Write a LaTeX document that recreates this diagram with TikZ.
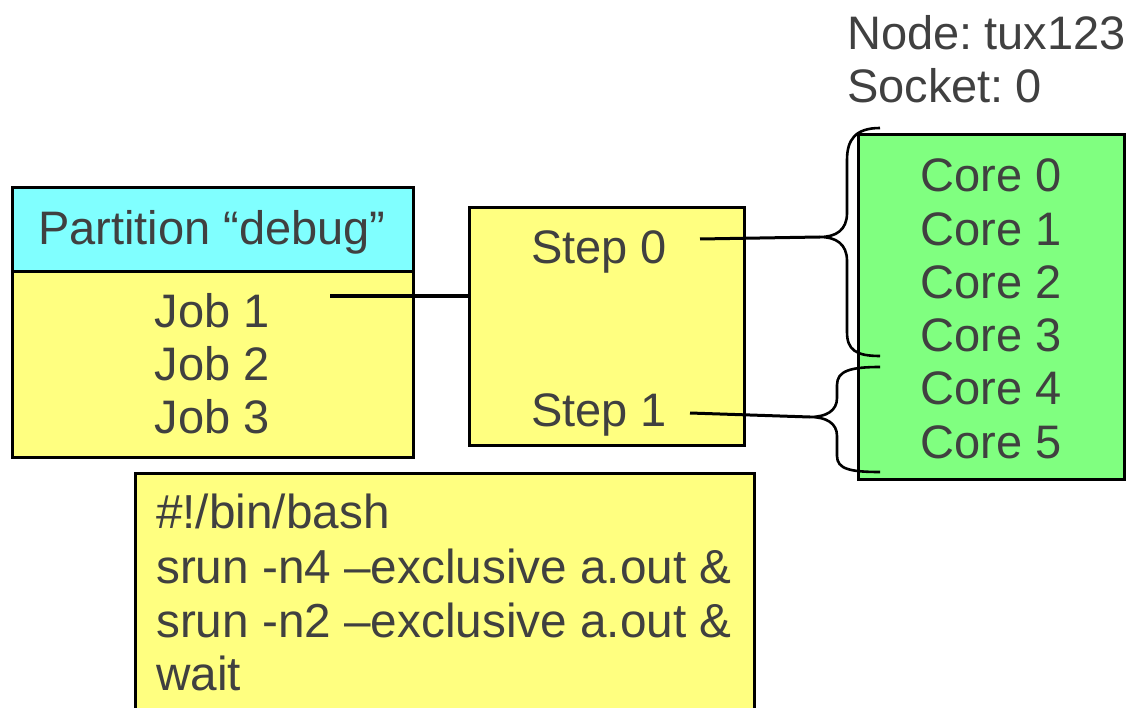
\documentclass[tikz,border=0pt]{standalone}
\usepackage{fontspec}
\setmainfont{Liberation Sans}
\definecolor{txt}{HTML}{404040}
\definecolor{cyanfill}{HTML}{80FFFF}
\definecolor{yellowfill}{HTML}{FFFF80}
\definecolor{greenfill}{HTML}{80FF80}
\newcommand{\lblfont}{\fontsize{47}{53}\selectfont}
\newcommand{\codefont}{\fontsize{47.7}{54}\selectfont}
\begin{document}
\begin{tikzpicture}[x=1pt,y=-1pt,
  box/.style={draw=black,line width=3pt},
  lbl/.style={text=txt,inner sep=0pt,anchor=base,font=\lblfont},
  lbll/.style={lbl,anchor=base west},
  codeline/.style={lbll,font=\codefont},
  wire/.style={draw=black,line width=3pt}]
\useasboundingbox (0,0) rectangle (1131,708);

% partition header and job list
\draw[box,fill=cyanfill] (12,188) rectangle (413,272);
\draw[box,fill=yellowfill] (12,272) rectangle (413,457);
\node[lbl] (part) at (212,245) {Partition “debug”};
\node[lbl] (job1) at (212,327) {Job 1};
\node[lbl] (job2) at (212,380) {Job 2};
\node[lbl] (job3) at (212,433) {Job 3};

% job steps
\draw[box,fill=yellowfill] (469,208) rectangle (744,445);
\node[lbl] (step0) at (599,264) {Step 0};
\node[lbl] (step1) at (599,426) {Step 1};

% cores of the socket
\draw[box,fill=greenfill] (858,135) rectangle (1124,479);
\foreach \i in {0,...,5}
  \node[lbl] (core\i) at (991,192+53.2*\i) {Core \i};

\node[lbll] (nodename) at (847,50) {Node:\hskip 12pt tux123};
\node[lbll] (socket) at (847,103) {Socket:\hskip 12pt 0};

% batch script
\draw[box,fill=yellowfill] (135,473) rectangle (754,712);
\node[codeline] (sh0) at (156,528) {\#!/bin/bash};
\node[codeline] (sh1) at (156,583) {srun -n4 –exclusive a.out \&};
\node[codeline] (sh2) at (156,637) {srun -n2 –exclusive a.out \&};
\node[codeline] (sh3) at (156,690) {wait};

% connectors
\coordinate (j1a) at (330,296);
\coordinate (j1b) at (469,296);
\draw[wire] (j1a) -- (j1b);

\coordinate (s0a) at (700,239);
\coordinate (tip0) at (820,237);
\coordinate (s1a) at (690,413);
\coordinate (tip1) at (810,417);
\draw[wire] (s0a) -- (tip0);
\draw[wire] (s1a) -- (tip1);

% braces grouping the cores
\draw[wire,line width=2.6pt] (880,128) .. controls (855,128) and (847,140) .. (847,160)
  -- (847,213) .. controls (847,230) and (836,237) .. (tip0)
  .. controls (836,237) and (847,244) .. (847,261)
  -- (847,332) .. controls (847,350) and (856,356) .. (880,356);
\draw[wire,line width=2.6pt] (880,367) .. controls (850,367) and (837,371) .. (837,385)
  -- (837,398) .. controls (837,411) and (826,417) .. (tip1)
  .. controls (826,417) and (837,423) .. (837,436)
  -- (837,456) .. controls (837,469) and (850,472) .. (880,472);
\end{tikzpicture}
\end{document}
